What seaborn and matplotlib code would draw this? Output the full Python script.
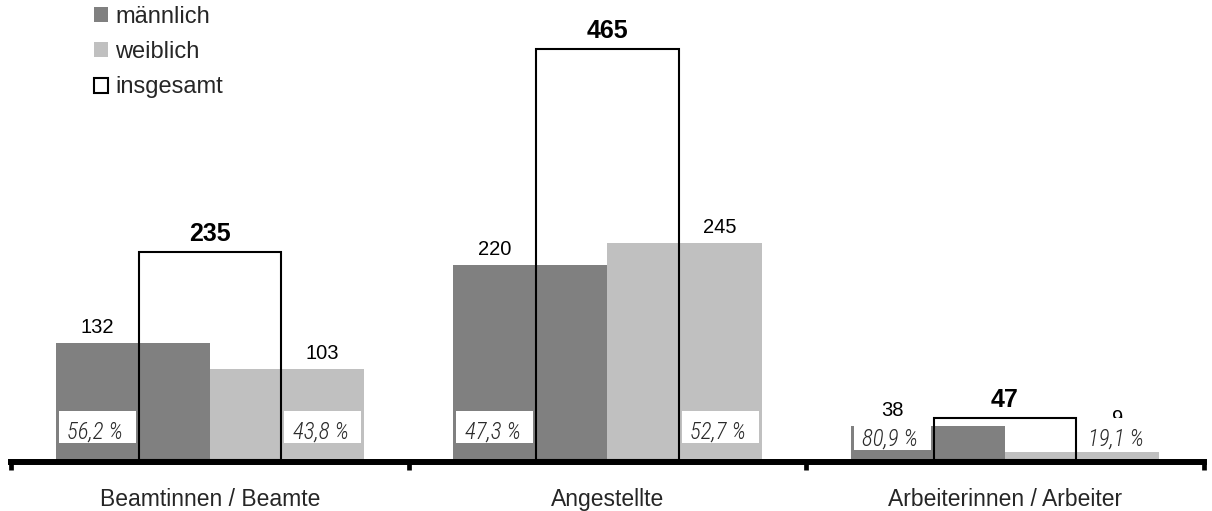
import matplotlib
matplotlib.use("Agg")
import matplotlib.pyplot as plt
from matplotlib.patches import Patch, Rectangle
import pandas as pd
import seaborn as sns

# Beschäftigte nach Dienstverhältnis und Geschlecht
groups = ["Beamtinnen / Beamte", "Angestellte", "Arbeiterinnen / Arbeiter"]
maennlich = [132, 220, 38]
weiblich = [103, 245, 9]
insgesamt = [235, 465, 47]
anteil_m = ["56,2 %", "47,3 %", "80,9 %"]
anteil_w = ["43,8 %", "52,7 %", "19,1 %"]
sexes = ["männlich", "weiblich"]

C_M = "#808080"
C_W = "#c0c0c0"

sns.set_theme(style="white")
plt.rcParams["font.family"] = ["Liberation Sans", "DejaVu Sans"]

df = pd.DataFrame({
    "gruppe": groups * 2,
    "geschlecht": [sexes[0]] * 3 + [sexes[1]] * 3,
    "anzahl": maennlich + weiblich,
})
df_tot = pd.DataFrame({"gruppe": groups, "anzahl": insgesamt})

W, H = 1212, 511
fig = plt.figure(figsize=(W / 100, H / 100), dpi=100)
ax = fig.add_axes([0, 51 / H, 1, 460 / H])

pair_w = 0.776          # male + female side by side
tot_w = 0.358           # outline bar for the total
half = pair_w / 2

sns.barplot(data=df, x="gruppe", y="anzahl", hue="geschlecht", order=groups,
            hue_order=sexes, palette=[C_M, C_W], width=pair_w, gap=0,
            saturation=1, errorbar=None, legend=False, linewidth=0, ax=ax)
sns.barplot(data=df_tot, x="gruppe", y="anzahl", order=groups, width=tot_w,
            fill=False, color="black", linewidth=1.5, errorbar=None, ax=ax)
for p in ax.patches[-3:]:
    p.set_zorder(3)

ax.set_xlim(-0.5283, 2.5208)
ax.set_ylim(0, 520)
ax.set_xlabel("")
ax.set_ylabel("")
ax.set_yticks([])

# axis line with boundary ticks
for s in ["top", "right", "left"]:
    ax.spines[s].set_visible(False)
sp = ax.spines["bottom"]
sp.set_linewidth(4.3)
sp.set_color("black")
sp.set_bounds(-0.5, 2.5)
sp.set_capstyle("projecting")
sp.set_position(("outward", 1.4))
sp.set_zorder(5)
ax.set_xticks(range(len(groups)))
ax.set_xticklabels(groups, fontsize=16.5)
ax.tick_params(axis="x", which="major", length=0, pad=18.5)
ax.set_xticks([-0.5, 0.5, 1.5, 2.5], minor=True)
ax.tick_params(axis="x", which="minor", direction="out", length=5.8,
               width=3.4, color="black", bottom=True)

# labels
vis = (half + tot_w / 2) / 2    # centre of the visible part of each bar
vis_w = half - tot_w / 2
box_h = 36.2
box_bottom = [19.2, 19.2, 11.3]
for i in range(len(groups)):
    for sign, val, pct in ((-1, maennlich[i], anteil_m[i]), (1, weiblich[i], anteil_w[i])):
        cx = i + sign * vis
        ax.text(cx, max(val, 29) + 11.3, str(val), ha="center", va="baseline",
                fontsize=14.5, color="black", zorder=4)
        bw = vis_w - 0.016
        ax.add_patch(Rectangle((cx - bw / 2, box_bottom[i]), bw, box_h,
                               facecolor="white", edgecolor="none", zorder=6))
        ax.text(cx - 0.005, box_bottom[i] + 4.6, pct, ha="center",
                va="baseline", fontsize=16.5, style="italic",
                fontweight="light",
                family=["Roboto Condensed", "Liberation Sans"],
                color="#2a2a2a", zorder=7)
    ax.text(i, insgesamt[i] + 12.5, str(insgesamt[i]), ha="center",
            va="baseline", fontsize=18, fontweight="bold", color="black",
            zorder=4)

handles = [Patch(facecolor=C_M, edgecolor="none"),
           Patch(facecolor=C_W, edgecolor="none"),
           Patch(facecolor="white", edgecolor="black", linewidth=1.5)]
fig.legend(handles, sexes + ["insgesamt"], loc="upper left",
           bbox_to_anchor=(94 / W, 1 - 6 / H), frameon=False, fontsize=17,
           handlelength=0.6, handleheight=0.6, handletextpad=0.3,
           labelspacing=0.56, borderpad=0, borderaxespad=0)

fig.savefig("out.png", dpi=100)
